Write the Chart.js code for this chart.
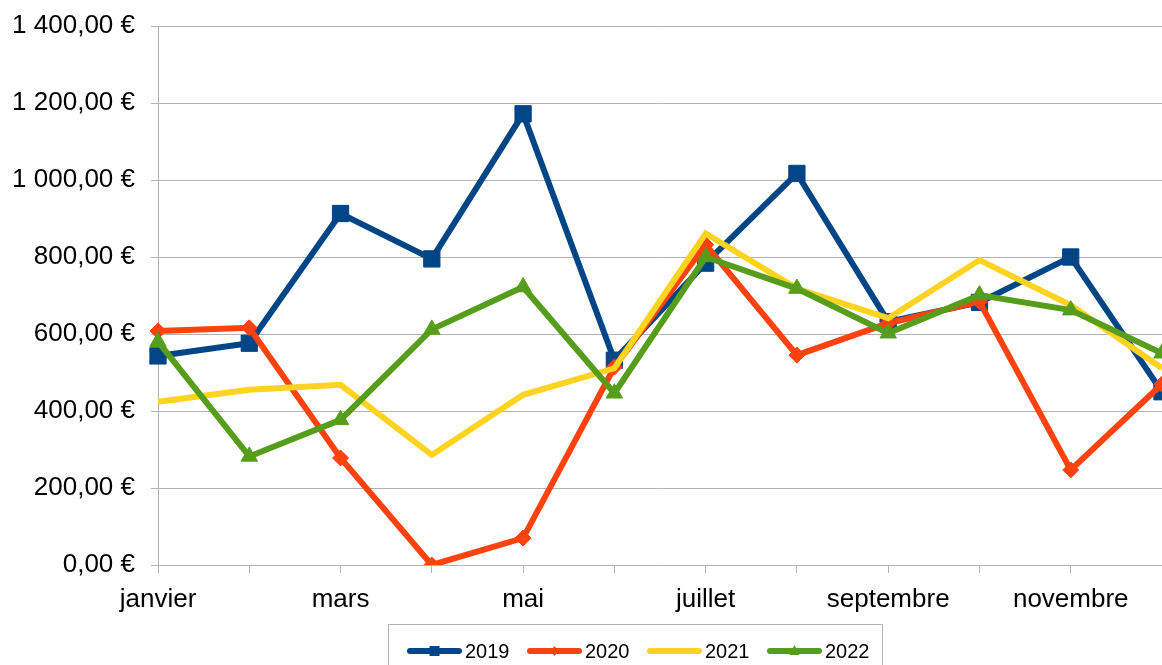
<!DOCTYPE html>
<html>
<head>
<meta charset="utf-8">
<script src="https://cdn.jsdelivr.net/npm/chart.js"></script>
<style>
  body { margin: 0; background: #fff; }
  canvas { display: block; }
</style>
</head>
<body>
<canvas id="chart" width="1162" height="665"></canvas>
<script>
/* data */
const months = ['janvier', 'février', 'mars', 'avril', 'mai', 'juin', 'juillet', 'août', 'septembre', 'octobre', 'novembre', 'décembre']
const years = ['2019', '2020', '2021', '2022']
const v2019 = [543, 576, 913, 795, 1172, 532, 784, 1017, 632, 682, 800, 450]
const v2020 = [608, 616, 278, 0, 70, 514, 832, 545, 628, 684, 247, 470]
const v2021 = [424, 455, 468, 286, 442, 511, 861, 718, 641, 792, 675, 511]
const v2022 = [580, 282, 377, 612, 722, 446, 800, 718, 602, 701, 662, 550]
const yMin = 0
const yMax = 1400
const yStep = 200

const FONT = '"Liberation Sans", Arial, sans-serif'
const GRID = '#b3b3b3'
const colors = ['#004586', '#ff420e', '#ffd320', '#579d1c']
const markers = ['rect', 'rectRot', false, 'triangle']

// 1 400,00 €
function euro(v) {
  let parts = v.toFixed(2).split('.')
  let int = parts[0].replace(/\B(?=(\d{3})+(?!\d))/g, ' ')
  return int + ',' + parts[1] + ' €'
}

function serie(i, data, radius) {
  return {
    label: years[i],
    data: data,
    borderColor: colors[i],
    backgroundColor: colors[i],
    borderWidth: 6,
    tension: 0,
    pointStyle: markers[i],
    pointRadius: markers[i] ? radius : 0,
    pointHoverRadius: markers[i] ? radius : 0,
    pointBorderWidth: 1,
    pointBorderColor: colors[i],
    pointBackgroundColor: colors[i],
    order: 4 - i
  }
}

/* legend drawn by hand: line + small marker + text, inside a gray box */
const boxLegend = {
  id: 'boxLegend',
  afterDraw(chart) {
    const ctx = chart.ctx
    ctx.save()
    ctx.strokeStyle = GRID
    ctx.lineWidth = 1
    ctx.strokeRect(388.5, 624.5, 494, 60)
    chart.data.datasets.forEach((ds, i) => {
      let x0 = 407 + 120 * i
      let y = 651
      let cx = x0 + 27.5
      ctx.strokeStyle = ds.borderColor
      ctx.fillStyle = ds.borderColor
      ctx.lineWidth = 6
      ctx.lineCap = 'round'
      ctx.beginPath()
      ctx.moveTo(x0 + 3, y)
      ctx.lineTo(x0 + 52, y)
      ctx.stroke()
      ctx.beginPath()
      if (ds.pointStyle == 'rect') {
        ctx.rect(cx - 5, y - 5, 10, 10)
      } else if (ds.pointStyle == 'rectRot') {
        ctx.moveTo(cx, y - 5); ctx.lineTo(cx + 4, y); ctx.lineTo(cx, y + 5); ctx.lineTo(cx - 4, y)
      } else if (ds.pointStyle == 'triangle') {
        ctx.moveTo(cx, y - 6); ctx.lineTo(cx + 5, y + 4); ctx.lineTo(cx - 5, y + 4)
      }
      ctx.closePath()
      ctx.fill()
      ctx.fillStyle = '#000'
      ctx.font = '20px ' + FONT
      ctx.textBaseline = 'middle'
      ctx.fillText(ds.label, x0 + 58, y + 1)
    })
    ctx.restore()
  }
}

const ctx = document.getElementById('chart')
const chart = new Chart(ctx, {
  type: 'line',
  data: {
    labels: months,
    datasets: [
      serie(0, v2019, 11.5),
      serie(1, v2020, 8),
      serie(2, v2021, 0),
      serie(3, v2022, 9.5)
    ]
  },
  options: {
    responsive: false,
    animation: false,
    layout: { autoPadding: false, padding: { top: 26, right: 0, bottom: 0, left: 0 } },
    plugins: {
      legend: { display: false },
      tooltip: { enabled: false }
    },
    scales: {
      x: {
        offset: false,
        grid: { drawOnChartArea: false, color: GRID, tickLength: 8 },
        border: { color: GRID },
        ticks: {
          autoSkip: false,
          maxRotation: 0,
          padding: 11,
          color: '#000',
          font: { family: FONT, size: 26 },
          callback: function(val, i) {
            return i % 2 == 0 ? this.getLabelForValue(val) : ''
          }
        },
        afterFit: (scale) => {
          scale.height = 100
          scale.paddingRight = 0 // plot runs to the right edge
        }
      },
      y: {
        min: yMin,
        max: yMax,
        grid: { color: GRID, tickLength: 7 },
        border: { color: GRID },
        ticks: {
          stepSize: yStep,
          padding: 16,
          color: '#000',
          font: { family: FONT, size: 26 },
          callback: (v) => euro(v)
        },
        afterFit: (scale) => {
          scale.width = 158
          scale.paddingTop = 0
        }
      }
    }
  },
  plugins: [boxLegend]
})
</script>
</body>
</html>
